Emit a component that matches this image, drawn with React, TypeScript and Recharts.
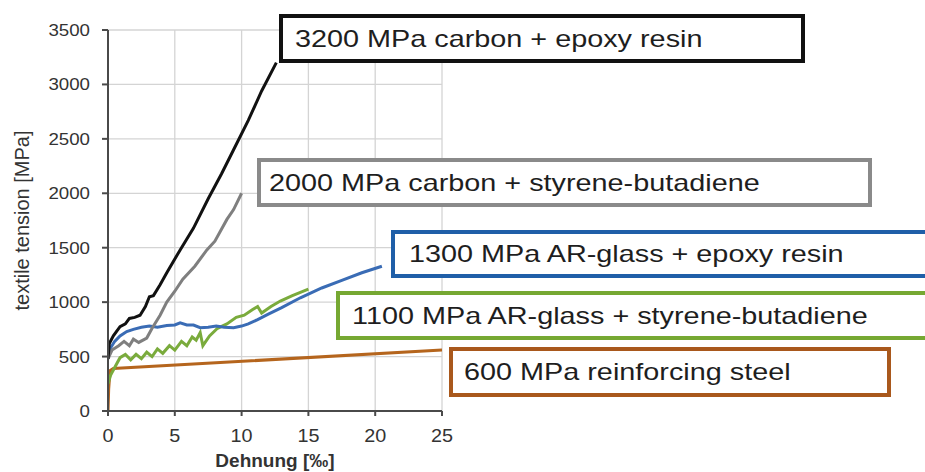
import React from 'react';
import { LineChart, Line, XAxis, YAxis, CartesianGrid } from 'recharts';

// strain [‰] / textile tension [MPa]
const carbonEpoxyStrain = [0, 0.1, 0.4, 0.9, 1.3, 1.6, 2.0, 2.4, 2.8, 3.1, 3.4, 3.9, 4.4, 5.4, 6.4, 7.5, 8.5, 9.4, 10.5, 11.5, 12.6];
const carbonEpoxyStress = [480, 620, 690, 775, 800, 850, 860, 880, 960, 1050, 1060, 1160, 1270, 1480, 1680, 1950, 2180, 2400, 2670, 2940, 3200];

const carbonSbrStrain = [0, 0.3, 0.8, 1.2, 1.6, 1.9, 2.3, 2.9, 3.3, 3.9, 4.4, 5.0, 5.6, 6.5, 7.4, 8.0, 8.9, 9.4, 10];
const carbonSbrStress = [480, 560, 600, 640, 600, 660, 630, 670, 760, 880, 1000, 1100, 1210, 1330, 1480, 1560, 1760, 1850, 2000];

const glassEpoxyStrain = [0, 0.1, 0.5, 0.9, 1.4, 1.9, 2.5, 3.1, 3.7, 4.4, 5.0, 5.4, 5.9, 6.4, 6.9, 7.5, 8.1, 8.7, 9.4, 10.0, 10.5, 11.2, 12.0, 13.0, 14.4, 16.0, 17.5, 19.0, 20.5];
const glassEpoxyStress = [480, 560, 640, 690, 730, 750, 770, 780, 770, 785, 790, 810, 790, 790, 765, 770, 780, 770, 765, 780, 800, 840, 890, 950, 1040, 1130, 1200, 1270, 1330];

const glassSbrStrain = [0, 0.2, 0.5, 0.9, 1.3, 1.7, 2.1, 2.5, 2.9, 3.3, 3.7, 4.1, 4.6, 5.0, 5.5, 5.9, 6.3, 6.6, 6.9, 7.1, 7.6, 8.2, 8.9, 9.6, 10.2, 10.8, 11.2, 11.5, 12.2, 12.9, 13.8, 15];
const glassSbrStress = [250, 330, 400, 490, 520, 470, 520, 480, 540, 500, 570, 530, 600, 560, 640, 600, 680, 650, 720, 600, 690, 760, 800, 860, 880, 930, 960, 900, 960, 1010, 1060, 1120];

const steelStrain = [0, 0.05, 0.15, 0.4, 25];
const steelStress = [0, 200, 370, 390, 560];

const xTicks = [0, 5, 10, 15, 20, 25];
const yTicks = [0, 500, 1000, 1500, 2000, 2500, 3000, 3500];

const zip = (xs: number[], ys: number[]) => xs.map((x, i) => ({ x, y: ys[i] }));

const series = [
  { name: 'steel', data: zip(steelStrain, steelStress), color: '#b5651d' },
  { name: 'glassSbr', data: zip(glassSbrStrain, glassSbrStress), color: '#7aab3c' },
  { name: 'glassEpoxy', data: zip(glassEpoxyStrain, glassEpoxyStress), color: '#3a6cb5' },
  { name: 'carbonSbr', data: zip(carbonSbrStrain, carbonSbrStress), color: '#7f7f7f' },
  { name: 'carbonEpoxy', data: zip(carbonEpoxyStrain, carbonEpoxyStress), color: '#111111' },
];

// annotation boxes (page pixels)
const boxes = [
  { text: '3200 MPa carbon + epoxy resin', color: '#111111', left: 279, top: 14, right: 805, bottom: 63, pad: 12, bw: 4 },
  { text: '2000 MPa carbon + styrene-butadiene', color: '#8a8a8a', left: 257, top: 158, right: 872, bottom: 207, pad: 8, bw: 4 },
  { text: '1300 MPa AR-glass + epoxy resin', color: '#1f5fa8', left: 391, top: 230, right: 930, bottom: 278, pad: 14, bw: 4 },
  { text: '1100 MPa AR-glass + styrene-butadiene', color: '#76a832', left: 336, top: 291, right: 930, bottom: 340, pad: 12, bw: 4 },
  { text: '600 MPa reinforcing steel', color: '#a9581c', left: 449, top: 347, right: 891, bottom: 397, pad: 11, bw: 4 },
];

const FONT = '"Liberation Sans", Arial, sans-serif';

const XTick = (props: any) => {
  const { x, y, payload } = props;
  return (
    <text transform={`translate(${x},${y}) scale(1.1,1)`} textAnchor="middle" dy="0.71em"
      fontSize={18} fontFamily={FONT} fill="#333">
      {payload.value}
    </text>
  );
};

const YTick = (props: any) => {
  const { x, y, payload } = props;
  return (
    <text transform={`translate(${x},${y}) scale(1.1,1)`} textAnchor="end" dy="0.355em"
      fontSize={17} fontFamily={FONT} fill="#333">
      {payload.value}
    </text>
  );
};

export default function App() {
  return (
    <div style={{ position: 'relative', width: 925, height: 472, background: '#fff', fontFamily: FONT, overflow: 'hidden' }}>
      <style>{'body{margin:0}'}</style>
      <LineChart width={925} height={472} margin={{ top: 30, right: 483, bottom: 0, left: 0 }}>
        <CartesianGrid stroke="#d4d4d4" strokeWidth={1.3} />
        <XAxis
          type="number"
          dataKey="x"
          domain={[0, 25]}
          ticks={xTicks}
          allowDataOverflow
          height={61}
          stroke="#4a4a4a"
          strokeWidth={2}
          tickSize={5}
          tickMargin={13}
          tick={<XTick />}
          label={{ value: 'Dehnung [‰]', position: 'insideBottom', offset: 5, style: { fontSize: 19, fontWeight: 'bold', fill: '#333', fontFamily: FONT } }}
        />
        <YAxis
          type="number"
          dataKey="y"
          domain={[0, 3500]}
          ticks={yTicks}
          allowDataOverflow
          width={108}
          stroke="#4a4a4a"
          strokeWidth={2}
          tickSize={6}
          tickMargin={12}
          tick={<YTick />}
          label={{ value: 'textile tension [MPa]', angle: -90, position: 'insideLeft', offset: 22, style: { textAnchor: 'middle', fontSize: 20, fill: '#333', fontFamily: FONT } }}
        />
        {series.map((s) => (
          <Line
            key={s.name}
            data={s.data}
            dataKey="y"
            type="linear"
            stroke={s.color}
            strokeWidth={3}
            dot={false}
            isAnimationActive={false}
          />
        ))}
      </LineChart>
      {boxes.map((b) => (
        <div
          key={b.text}
          style={{
            position: 'absolute',
            left: b.left,
            top: b.top,
            width: b.right - b.left,
            height: b.bottom - b.top,
            boxSizing: 'border-box',
            border: `${b.bw}px solid ${b.color}`,
            background: '#fff',
            display: 'flex',
            alignItems: 'center',
            paddingLeft: b.pad,
            whiteSpace: 'nowrap',
          }}
        >
          <span style={{ display: 'inline-block', fontSize: 24, color: '#1e1e1e', transform: 'scaleX(1.2)', transformOrigin: 'left center' }}>
            {b.text}
          </span>
        </div>
      ))}
    </div>
  );
}
